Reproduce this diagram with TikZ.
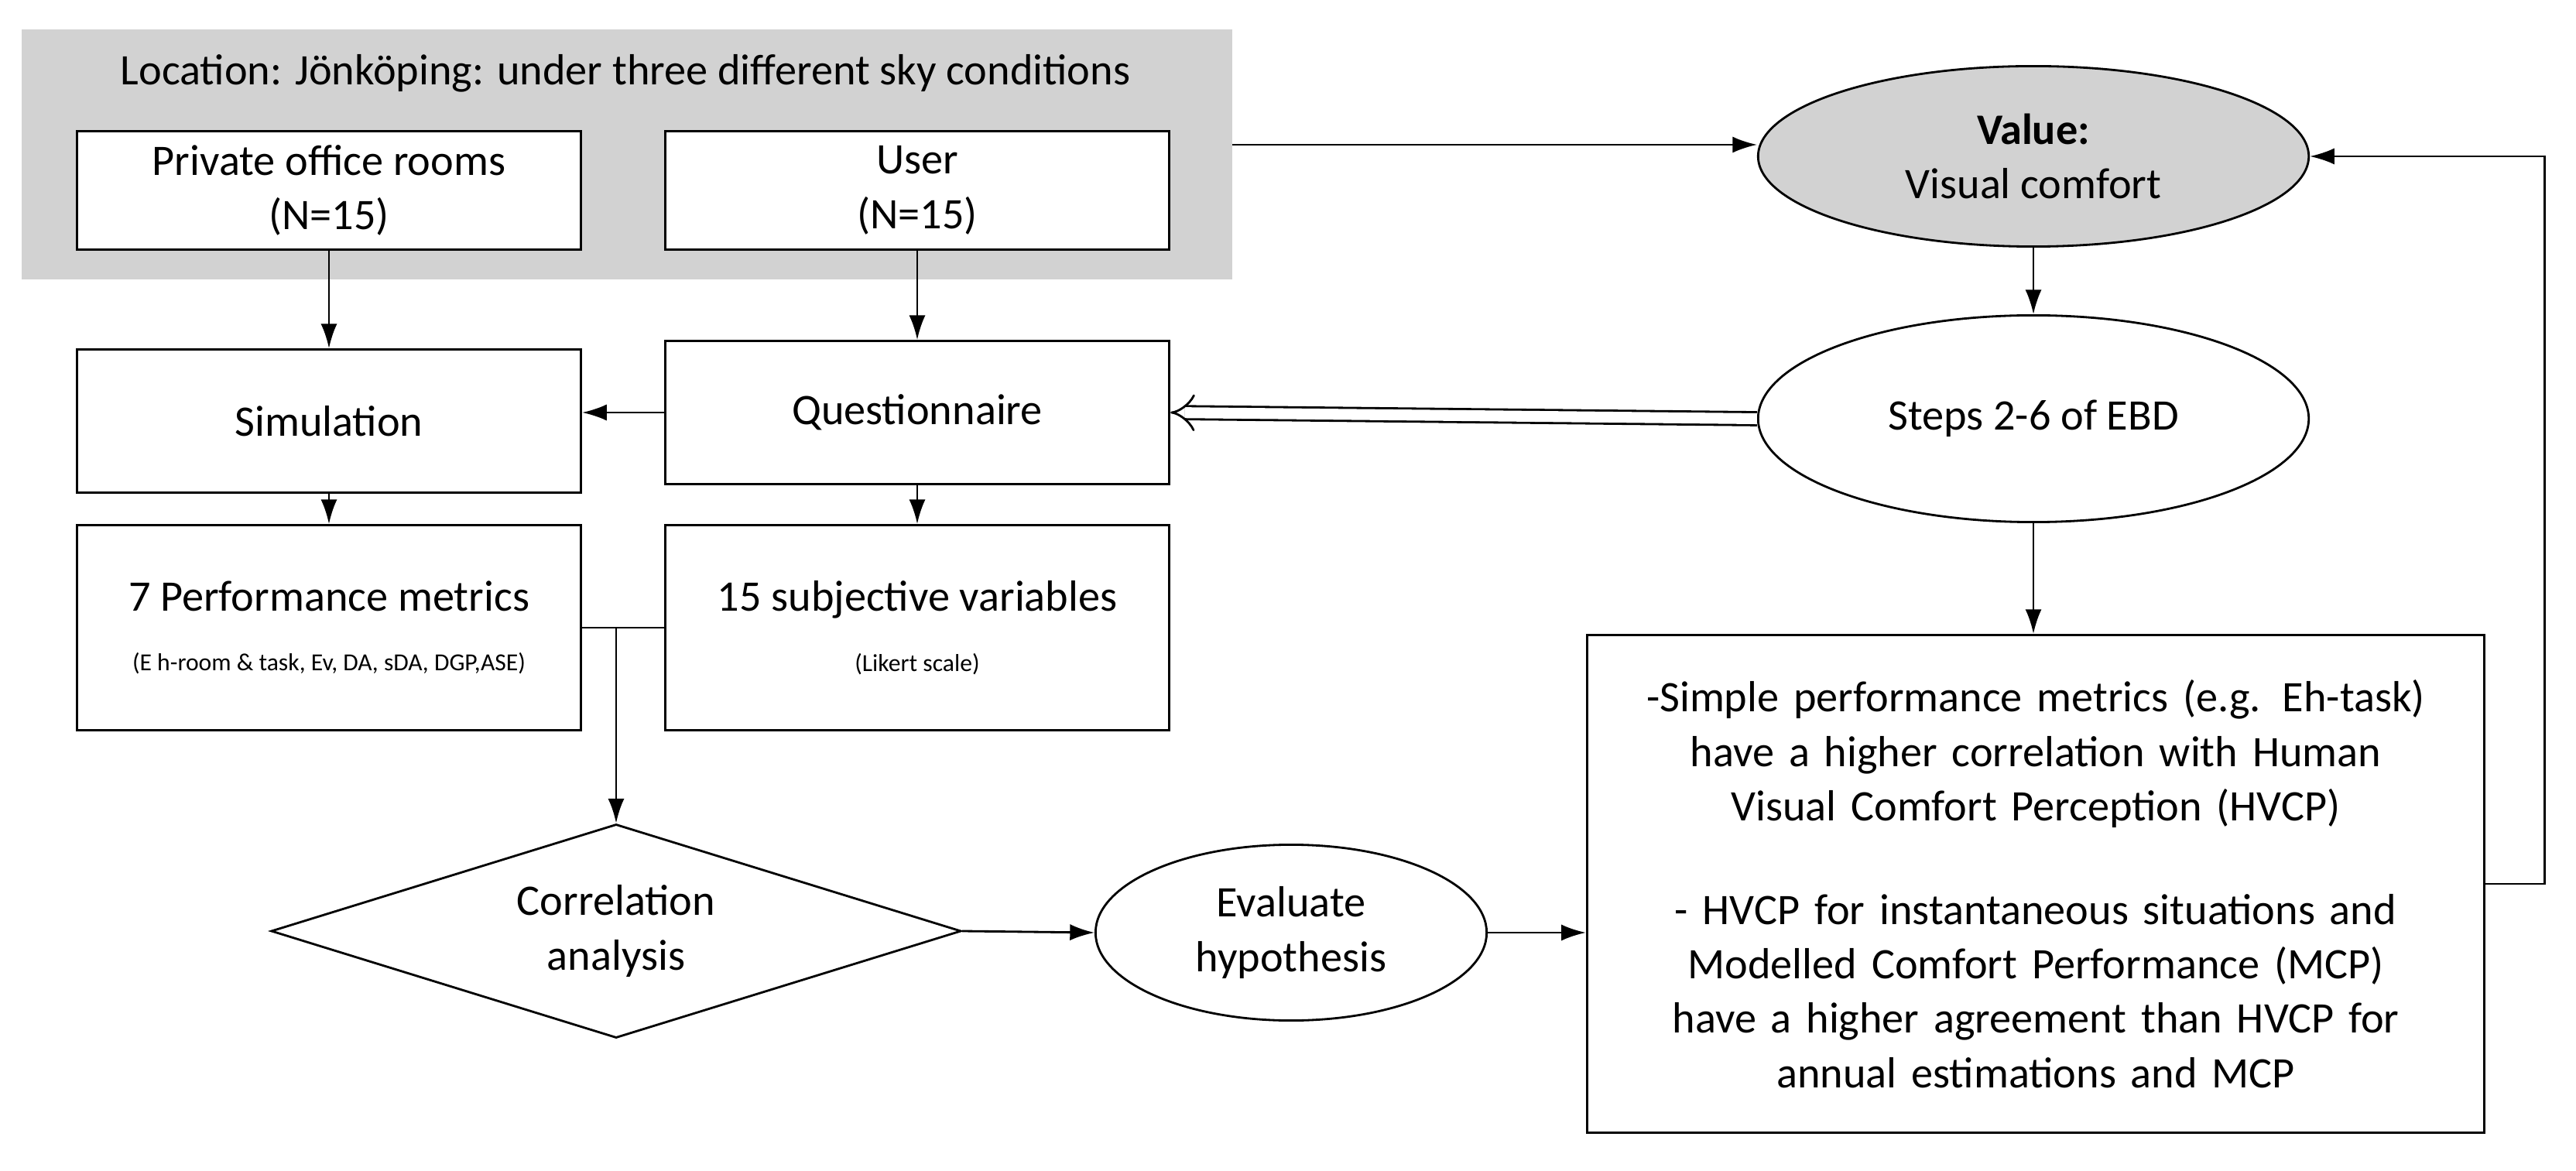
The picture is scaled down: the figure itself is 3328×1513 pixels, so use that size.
\documentclass[tikz,border=0pt]{standalone}
\usepackage{fontspec}
\setmainfont{Carlito}
\usetikzlibrary{shapes}
\usetikzlibrary{arrows.meta}

\begin{document}
\begin{tikzpicture}[x=0.01cm,y=-0.01cm]
				\tikzstyle{every node}=[font=\fontsize{16}{20}\selectfont]
				\tikzstyle{box}=[rectangle,draw,thick,fill=white,minimum width=6.51cm,align=center]
				\tikzstyle{oval}=[ellipse,draw,thick,align=center]
				\tikzstyle{arr}=[thick,-{Latex[length=9pt,width=6pt]}]
				\tikzstyle{small}=[font=\fontsize{9}{11}\selectfont]
				\useasboundingbox (0,0) rectangle (3328,1513);
				\fill[gray!35] (28,38) rectangle (1592,361);
				\node (loc) at (808,95) {Location: J\"onk\"oping: under three different sky conditions};
				\coordinate (gray) at (1592,187);
				\node[box,minimum height=1.53cm] (office) at (425,246) {Private office rooms\\(N=15)};
				\node[box,minimum height=1.53cm] (user) at (1185,246) {User\\(N=15)};
				\node[box,minimum height=1.85cm] (sim) at (425,544) {Simulation};
				\node[box,minimum height=1.85cm] (quest) at (1185,533) {Questionnaire};
				\node[box,minimum height=2.65cm] (perf) at (425,811) {7 Performance metrics\\[2pt]{\small\fontsize{9}{11}\selectfont (E h-room \& task, Ev, DA, sDA, DGP,ASE)}};
				\node[box,minimum height=2.65cm] (subj) at (1185,811) {15 subjective variables\\[2pt]{\fontsize{9}{11}\selectfont (Likert scale)}};
				\node[diamond,draw,thick,aspect=3.2,minimum width=8.91cm,minimum height=2.76cm,inner sep=0pt,align=center] (corr) at (796,1203) {Correlation\\analysis};
				\node[oval,minimum width=5.05cm,minimum height=2.27cm] (eval) at (1668,1205) {Evaluate\\hypothesis};
				\node[oval,fill=gray!35,minimum width=7.11cm,minimum height=2.33cm] (value) at (2627,202) {\textbf{Value:}\\Visual comfort};
				\node[oval,minimum width=7.11cm,minimum height=2.67cm] (steps) at (2627,541) {Steps 2-6 of EBD};
				\node[rectangle,draw,thick,minimum width=11.59cm,minimum height=6.43cm,text width=11.2cm,align=center] (result) at (2630,1142) {-Simple performance metrics (e.g. Eh-task)\\have a higher correlation with Human\\Visual Comfort Perception (HVCP)\\[18pt]- HVCP for instantaneous situations and\\Modelled Comfort Performance (MCP)\\have a higher agreement than HVCP for\\annual estimations and MCP};
				\coordinate (join) at (796,811);
				% connectors
				\draw[arr] (gray) -- (gray -| value.west);
				\draw[arr] (value) -- (steps);
				\draw[thick,double,double distance=4pt,-{Implies[length=9pt]}] (steps.west) -- (quest.east);
				\draw[arr] (quest.west) -- (quest.west -| sim.east);
				\draw[arr] (office) -- (sim);
				\draw[arr] (user) -- (quest);
				\draw[arr] (sim) -- (perf);
				\draw[arr] (quest) -- (subj);
				\draw[thick] (perf.east) -- (subj.west);
				\draw[arr] (join) -- (corr.north);
				\draw[arr] (corr.east) -- (eval.west);
				\draw[arr] (eval.east) -- (eval.east -| result.west);
				\draw[arr] (steps.south) -- (steps.south |- result.north);
				\draw[arr] (result.east) -- ++(76,0) |- (value.east);
				
\end{tikzpicture}
\end{document}
